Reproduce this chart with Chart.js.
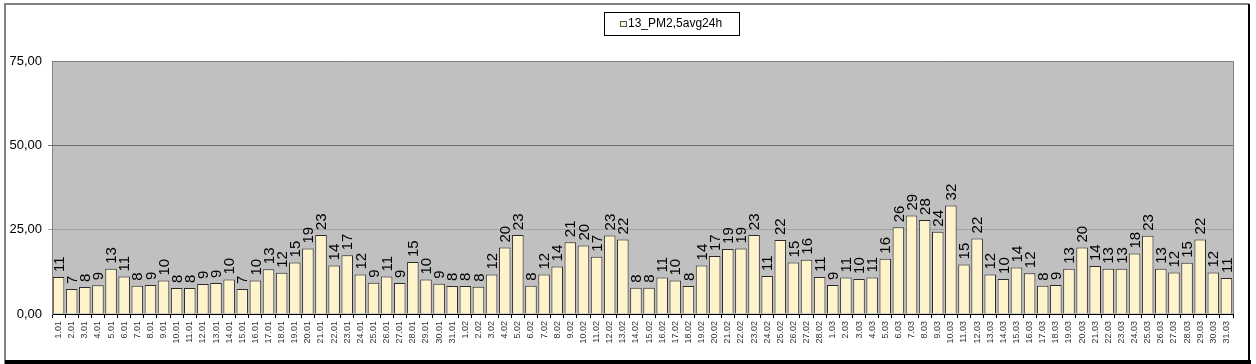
<!DOCTYPE html>
<html>
<head>
<meta charset="utf-8">
<script src="https://cdn.jsdelivr.net/npm/chart.js@4/dist/chart.umd.min.js"></script>
<style>
  body { margin: 0; background: #fff; }
</style>
</head>
<body>
<canvas id="pmChart" width="1256" height="364"></canvas>
<script>
// dates 1.01 .. 31.03
const days = [
  '1.01','2.01','3.01','4.01','5.01','6.01','7.01','8.01','9.01','10.01',
  '11.01','12.01','13.01','14.01','15.01','16.01','17.01','18.01','19.01','20.01',
  '21.01','22.01','23.01','24.01','25.01','26.01','27.01','28.01','29.01','30.01','31.01',
  '1.02','2.02','3.02','4.02','5.02','6.02','7.02','8.02','9.02','10.02',
  '11.02','12.02','13.02','14.02','15.02','16.02','17.02','18.02','19.02','20.02',
  '21.02','22.02','23.02','24.02','25.02','26.02','27.02','28.02',
  '1.03','2.03','3.03','4.03','5.03','6.03','7.03','8.03','9.03','10.03',
  '11.03','12.03','13.03','14.03','15.03','16.03','17.03','18.03','19.03','20.03',
  '21.03','22.03','23.03','24.03','25.03','26.03','27.03','28.03','29.03','30.03','31.03'
];

const seriesName = '13_PM2,5avg24h';

// daily PM2.5 averages
const pm25 = [
  11.0, 7.4, 8.0, 8.5, 13.4, 11.1, 8.4, 8.6, 9.9, 7.7,
  7.7, 8.9, 9.2, 10.2, 7.4, 9.9, 13.3, 12.2, 15.3, 19.4,
  23.4, 14.4, 17.4, 11.7, 9.3, 11.1, 9.2, 15.4, 10.2, 9.0, 8.3,
  8.3, 8.1, 11.7, 19.7, 23.4, 8.4, 11.7, 14.1, 21.3, 20.3,
  17.0, 23.3, 22.1, 7.8, 7.8, 10.8, 9.9, 8.3, 14.4, 17.2,
  19.3, 19.4, 23.4, 11.3, 21.9, 15.3, 16.1, 11.0,
  8.6, 10.8, 10.4, 10.8, 16.4, 25.7, 29.2, 27.9, 24.4, 32.2,
  14.7, 22.4, 11.7, 10.4, 13.8, 12.1, 8.4, 8.6, 13.4, 19.7,
  14.2, 13.4, 13.4, 17.9, 23.2, 13.4, 12.3, 15.2, 22.1, 12.3, 10.7
];

const yTicks = [0, 25, 50, 75];

const barFill = '#fff3cc';
const barEdge = '#2a2a2a';
const fontFam = '"Liberation Sans", Arial, sans-serif';

/* =====================
   Frame, plot background, legend
   ===================== */
const framePlugin = {
    id: 'frame',
    beforeDraw(chart) {
        const ctx = chart.ctx;
        const a = chart.chartArea;
        ctx.save();
        ctx.fillStyle = '#fff';
        ctx.fillRect(0, 0, chart.width, chart.height);
        // outer frame
        ctx.strokeStyle = '#808080';
        ctx.lineWidth = 2;
        ctx.beginPath();
        ctx.moveTo(5, 364);
        ctx.lineTo(5, 4);
        ctx.lineTo(1249, 4);
        ctx.stroke();
        ctx.strokeStyle = '#000';
        ctx.beginPath();
        ctx.moveTo(1249, 4);
        ctx.lineTo(1249, 361);
        ctx.lineTo(5, 361);
        ctx.stroke();
        ctx.fillStyle = '#000';
        ctx.fillRect(5, 360, 1246, 4);
        // plot area
        ctx.fillStyle = '#c0c0c0';
        ctx.fillRect(a.left, a.top, a.right - a.left, a.bottom - a.top);
        ctx.restore();
    },
    afterDraw(chart) {
        const ctx = chart.ctx;
        const a = chart.chartArea;
        ctx.save();
        // plot border top/right
        ctx.strokeStyle = '#808080';
        ctx.lineWidth = 1;
        ctx.beginPath();
        ctx.moveTo(a.left, a.top + 0.5);
        ctx.lineTo(a.right + 0.5, a.top + 0.5);
        ctx.lineTo(a.right + 0.5, a.bottom);
        ctx.stroke();

        // legend box
        const bx = 604, by = 12, bw = 135, bh = 23;
        ctx.fillStyle = '#fff';
        ctx.fillRect(bx, by, bw, bh);
        ctx.strokeStyle = '#000';
        ctx.strokeRect(bx + 0.5, by + 0.5, bw, bh);
        ctx.fillStyle = barFill;
        ctx.fillRect(620, 21, 7, 6);
        ctx.strokeStyle = '#555';
        ctx.strokeRect(620.5, 21.5, 6, 5);
        ctx.fillStyle = '#000';
        ctx.font = '12px ' + fontFam;
        ctx.textBaseline = 'middle';
        ctx.fillText(chart.data.datasets[0].label, 628, 24);
        ctx.restore();
    }
};

/* =====================
   Rotated value labels
   ===================== */
const valueLabels = {
    id: 'valueLabels',
    afterDatasetsDraw(chart) {
        const ctx = chart.ctx;
        const meta = chart.getDatasetMeta(0);
        const values = chart.data.datasets[0].data;
        ctx.save();
        ctx.fillStyle = '#000';
        ctx.font = '15px ' + fontFam;
        ctx.textAlign = 'left';
        ctx.textBaseline = 'middle';
        meta.data.forEach((bar, i) => {
            ctx.save();
            ctx.translate(bar.x + 1, bar.y - 5);
            ctx.rotate(-Math.PI / 2);
            ctx.fillText(String(Math.round(values[i])), 0, 0);
            ctx.restore();
        });
        ctx.restore();
    }
};

const pmCtx = document.getElementById('pmChart');
new Chart(pmCtx, {
    type: 'bar',
    data: {
        labels: days,
        datasets: [{
            label: seriesName,
            data: pm25,
            backgroundColor: barFill,
            borderColor: barEdge,
            borderWidth: 1,
            borderSkipped: 'bottom',
            barPercentage: 0.88,
            categoryPercentage: 1.0
        }]
    },
    options: {
        responsive: false,
        animation: false,
        layout: {
            padding: { top: 61, right: 23, left: 0, bottom: 0 }
        },
        plugins: {
            legend: { display: false },
            tooltip: { enabled: false }
        },
        scales: {
            x: {
                offset: true,
                afterFit: (scale) => { scale.height = 50; },
                grid: {
                    offset: true,
                    drawOnChartArea: false,
                    tickLength: 4,
                    color: '#000'
                },
                border: { color: '#000', width: 1 },
                ticks: {
                    autoSkip: false,
                    maxRotation: 90,
                    minRotation: 90,
                    padding: 3,
                    color: '#333',
                    font: { family: fontFam, size: 9 }
                }
            },
            y: {
                min: 0,
                max: 75,
                afterFit: (scale) => { scale.width = 52; },
                afterBuildTicks: (scale) => {
                    scale.ticks = yTicks.map(v => ({ value: v }));
                },
                grid: {
                    tickLength: 4,
                    color: (c) => {
                        if (c.tick && c.tick.value === 50) return '#6e6e6e';
                        if (c.tick && c.tick.value === 25) return '#a4a4a4';
                        return 'rgba(0,0,0,0)';
                    }
                },
                border: { color: '#808080', width: 1 },
                ticks: {
                    padding: 6,
                    color: '#000',
                    font: { family: fontFam, size: 13 },
                    callback: (v) => Number(v).toFixed(2).replace('.', ',')
                }
            }
        }
    },
    plugins: [framePlugin, valueLabels]
});
</script>
</body>
</html>
